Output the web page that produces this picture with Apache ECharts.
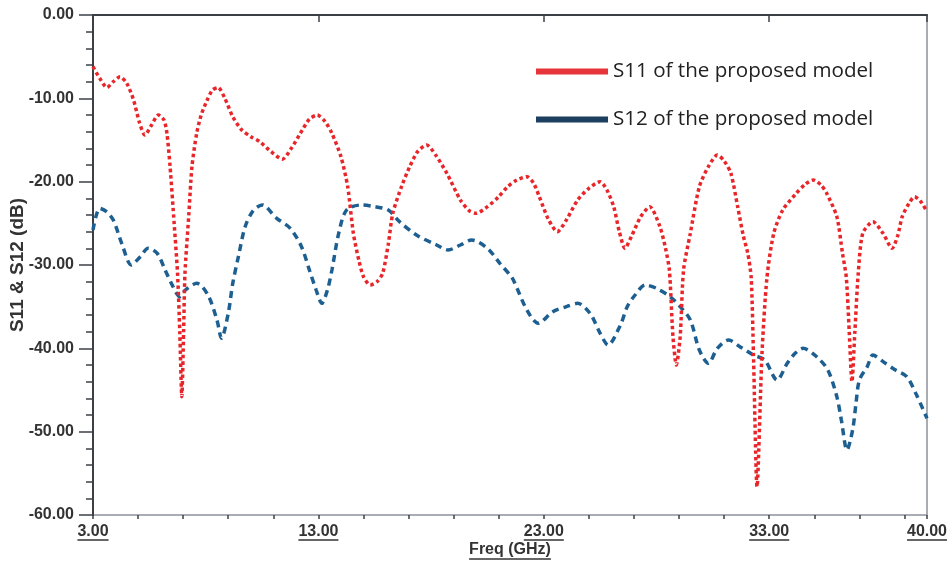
<!DOCTYPE html>
<html>
<head>
<meta charset="utf-8">
<script src="https://cdn.jsdelivr.net/npm/echarts@6/dist/echarts.min.js"></script>
<style>html,body{margin:0;padding:0;background:#fff}#c{width:951px;height:565px}</style>
</head>
<body>
<div id="c"></div>
<script>
// ---- data ----
const s11Freq = [3.0,3.3,3.62,3.9,4.2,4.5,4.8,5.05,5.3,5.6,5.9,6.15,6.28,6.42,6.6,6.75,6.85,6.94,7.02,7.08,7.25,7.39,7.6,7.8,8.05,8.3,8.55,8.85,9.2,9.6,10.0,10.4,10.9,11.4,11.8,12.2,12.6,12.95,13.3,13.6,14.0,14.3,14.55,14.8,15.0,15.3,15.6,15.85,16.1,16.3,16.7,17.05,17.4,17.8,18.2,18.7,19.3,19.7,20.0,20.5,21.0,21.4,21.8,22.25,22.55,22.8,23.2,23.6,24.0,24.5,25.0,25.5,25.8,26.1,26.35,26.6,26.9,27.3,27.7,28.15,28.4,28.57,28.73,28.88,29.05,29.2,29.5,29.9,30.3,30.7,31.0,31.3,31.6,31.85,32.05,32.2,32.3,32.46,32.68,32.9,33.2,33.6,34.2,34.6,34.95,35.3,35.55,36.0,36.25,36.42,36.55,36.67,36.8,36.95,37.15,37.6,38.05,38.45,38.7,38.9,39.2,39.45,39.7,40.0];
const s11dB = [-6.2,-7.6,-8.7,-8.0,-7.4,-8.2,-10.2,-12.8,-14.4,-13.2,-12.0,-12.6,-14.2,-18.2,-25.0,-31.0,-38.0,-45.8,-38.0,-31.0,-24.0,-18.2,-14.2,-12.0,-10.3,-9.0,-8.7,-10.0,-12.2,-13.8,-14.6,-15.2,-16.4,-17.3,-16.0,-14.2,-12.5,-12.0,-12.8,-14.2,-17.0,-20.6,-26.2,-29.5,-31.4,-32.4,-32.0,-31.0,-27.5,-23.8,-20.5,-18.2,-16.4,-15.6,-16.8,-19.0,-22.2,-23.5,-23.8,-23.0,-21.8,-20.6,-19.8,-19.4,-20.2,-21.8,-24.5,-26.0,-24.6,-22.2,-20.8,-20.0,-21.0,-23.0,-26.0,-28.0,-26.5,-24.2,-23.0,-25.4,-28.0,-30.6,-38.6,-42.0,-38.6,-30.6,-26.2,-20.6,-18.2,-16.8,-17.5,-19.0,-23.0,-26.5,-28.6,-31.5,-40.6,-56.6,-40.6,-31.5,-26.2,-23.4,-21.4,-20.3,-19.8,-20.4,-21.4,-24.2,-28.6,-31.5,-38.0,-44.0,-38.0,-31.0,-26.2,-24.8,-26.2,-28.0,-26.5,-24.2,-22.6,-21.8,-22.3,-23.6];
const s12Freq = [3.0,3.3,3.6,3.9,4.3,4.7,5.1,5.45,5.85,6.2,6.55,6.85,7.1,7.6,8.1,8.5,8.7,9.0,9.2,9.45,9.75,10.1,10.5,11.15,11.75,12.25,12.6,12.9,13.15,13.4,13.6,13.9,14.25,14.9,15.5,16.1,16.6,17.35,18.25,18.75,19.3,19.8,20.5,21.05,21.5,21.65,22.25,22.75,23.4,24.0,24.5,25.05,25.5,25.85,26.4,26.7,27.05,27.5,28.0,28.6,29.05,29.5,29.9,30.3,30.7,31.2,31.7,32.3,32.8,33.35,33.8,34.15,34.5,35.1,35.6,36.0,36.2,36.45,36.7,36.85,37.0,37.35,37.6,38.05,38.6,39.1,39.5,40.0];
const s12dB = [-25.8,-23.2,-23.6,-24.6,-27.6,-30.0,-29.0,-28.0,-28.6,-30.6,-32.6,-33.8,-33.0,-32.2,-33.6,-36.6,-38.8,-35.8,-32.2,-29.0,-25.4,-23.5,-22.8,-24.4,-25.6,-27.8,-30.6,-33.0,-34.6,-33.0,-30.6,-26.2,-23.4,-22.8,-23.0,-23.4,-24.8,-26.4,-27.6,-28.2,-27.6,-27.0,-28.0,-29.8,-31.2,-31.8,-35.4,-37.0,-35.6,-35.0,-34.6,-35.8,-38.2,-39.6,-37.2,-35.0,-33.6,-32.4,-32.8,-33.8,-35.0,-36.6,-40.2,-41.8,-40.0,-39.0,-39.8,-40.8,-41.4,-43.8,-41.8,-40.6,-40.0,-41.0,-42.6,-45.8,-48.6,-52.2,-49.8,-46.6,-43.8,-42.2,-40.8,-41.6,-42.6,-43.4,-45.4,-48.4];
const xLabelValues = [3, 13, 23, 33, 40];
const xMinorTickValues = [3,5,7,9,11,13,15,17,19,21,23,25,27,29,31,33,35,37,39,40];
const seriesNames = ['S11 of the proposed model', 'S12 of the proposed model'];
const xName = 'Freq (GHz)';
const yName = 'S11 & S12 (dB)';

const zip = (a, b) => a.map((v, i) => [v, b[i]]);
const axisFont = '"Liberation Sans", Arial, sans-serif';
const chart = echarts.init(document.getElementById('c'), null, {renderer: 'canvas'});

const option = {
  animation: false,
  backgroundColor: '#fff',
  grid: {left: 93, right: 24, top: 15, bottom: 50, outerBoundsMode: 'none', containLabel: false,
    show: true, borderColor: '#8d939a', borderWidth: 1.5, backgroundColor: 'transparent'},
  legend: {
    orient: 'vertical', left: 531, top: 56, itemWidth: 72, itemHeight: 6, itemGap: 27,
    textStyle: {fontFamily: '"Open Sans", sans-serif', fontSize: 20.6, color: '#222'},
    data: [
      {name: seriesNames[0], icon: 'rect', itemStyle: {color: '#e5353a'}},
      {name: seriesNames[1], icon: 'rect', itemStyle: {color: '#1c3f5f'}}
    ]
  },
  xAxis: [{
    type: 'value', min: 3, max: 40,
    name: xName, nameLocation: 'middle', nameGap: 27, nameMoveOverlap: false,
    nameTextStyle: {fontFamily: axisFont, fontWeight: 'bold', fontSize: 16, color: '#333'},
    axisLine: {lineStyle: {color: '#3c4046', width: 2}},
    axisTick: {show: true, length: 7, inside: false, customValues: xLabelValues, lineStyle: {color: '#3c4046', width: 1.5}},
    axisLabel: {customValues: xLabelValues, margin: 9, fontFamily: axisFont, fontWeight: 'bold', fontSize: 16, color: '#333',
      formatter: v => v.toFixed(2)},
    splitLine: {show: false}
  }, {
    type: 'value', min: 3, max: 40, position: 'bottom',
    axisLine: {show: false},
    axisTick: {show: true, length: 4, customValues: xMinorTickValues, lineStyle: {color: '#3c4046', width: 1.5}},
    axisLabel: {show: false},
    splitLine: {show: false}
  }],
  yAxis: {
    type: 'value', min: -60, max: 0, interval: 10,
    name: yName, nameLocation: 'middle', nameGap: 66, nameRotate: 90, nameMoveOverlap: false,
    nameTextStyle: {fontFamily: axisFont, fontWeight: 'bold', fontSize: 19, color: '#333'},
    axisLine: {show: true, lineStyle: {color: '#3c4046', width: 2}},
    axisTick: {show: true, length: 14, lineStyle: {color: '#3c4046', width: 1.5}},
    minorTick: {show: true, splitNumber: 5, length: 7, lineStyle: {color: '#3c4046', width: 1.5}},
    axisLabel: {margin: 19, fontFamily: axisFont, fontWeight: 'bold', fontSize: 16, color: '#333',
      formatter: v => v.toFixed(2)},
    splitLine: {show: false}
  },
  series: [{
    name: seriesNames[0], type: 'line', data: zip(s11Freq, s11dB), showSymbol: false, symbol: 'none',
    smooth: 0.25, z: 3,
    lineStyle: {color: '#e8262a', width: 3.5, type: [3.5, 3]},
    itemStyle: {color: '#e5353a'}
  }, {
    name: seriesNames[1], type: 'line', data: zip(s12Freq, s12dB), showSymbol: false, symbol: 'none',
    smooth: 0.3, z: 2,
    lineStyle: {color: '#1d5f91', width: 3.5, type: [7, 5]},
    itemStyle: {color: '#1c3f5f'}
  }]
};
chart.setOption(option);

// underline the x-axis labels and name (as in the reference)
const cv = document.createElement('canvas').getContext('2d');
const measure = (t, size) => { cv.font = 'bold ' + size + 'px ' + axisFont; return cv.measureText(t).width; };
const gr = [];
xLabelValues.forEach(v => {
  const px = chart.convertToPixel({xAxisIndex: 0}, v);
  const w = measure(v.toFixed(2), 16);
  gr.push({type: 'line', shape: {x1: px - w / 2, y1: 540, x2: px + w / 2, y2: 540}, style: {stroke: '#333', lineWidth: 1.5}, silent: true});
});
const midX = (chart.convertToPixel({xAxisIndex: 0}, 3) + chart.convertToPixel({xAxisIndex: 0}, 40)) / 2;
const wn = measure(xName, 16);
gr.push({type: 'line', shape: {x1: midX - wn / 2, y1: 559, x2: midX + wn / 2, y2: 559}, style: {stroke: '#333', lineWidth: 1.5}, silent: true});
chart.setOption({graphic: gr});
</script>
</body>
</html>
